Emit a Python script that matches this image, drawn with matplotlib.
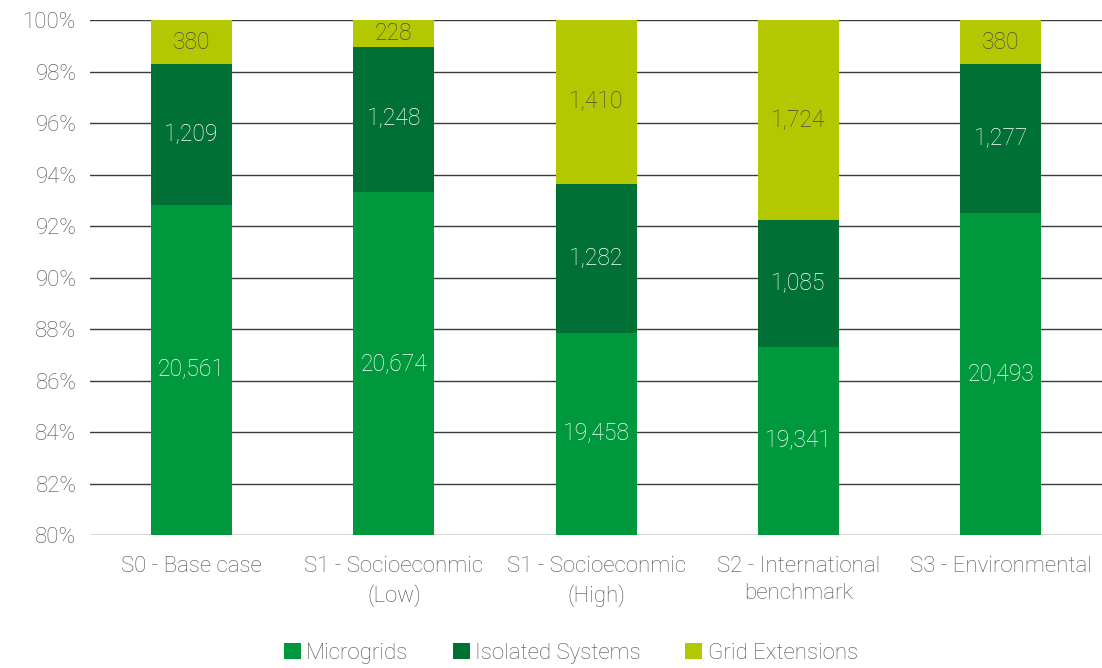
import matplotlib.pyplot as plt
import numpy as np

scenarios = ['S0 - Base case', 'S1 - Socioeconmic\n(Low)', 'S1 - Socioeconmic\n(High)',
             'S2 - International\nbenchmark', 'S3 - Environmental']
microgrids = [20561, 20674, 19458, 19341, 20493]
isolated = [1209, 1248, 1282, 1085, 1277]
grid_ext = [380, 228, 1410, 1724, 380]

series_names = ['Microgrids', 'Isolated Systems', 'Grid Extensions']
colors = ['#00983d', '#007035', '#b3c800']
label_colors = ['white', 'white', '#4a4a4a']

plt.rcParams['font.family'] = ['Roboto', 'DejaVu Sans']
plt.rcParams['font.weight'] = 'light'
text_gray = '#4f4f4f'

counts = np.array([microgrids, isolated, grid_ext], dtype=float)
pct = counts / counts.sum(axis=0) * 100

fig = plt.figure(figsize=(11.02, 6.68), dpi=100)
ax = fig.add_axes([0.082, 0.199, 0.918, 0.771])

x = np.arange(len(scenarios))
bottom = np.zeros(len(scenarios))
for i, name in enumerate(series_names):
    ax.bar(x, pct[i], 0.4, bottom=bottom, color=colors[i], label=name, zorder=2)
    for j in range(len(scenarios)):
        lo = max(bottom[j], 80)
        hi = min(bottom[j] + pct[i][j], 100)
        if hi > lo:
            ax.text(x[j], (lo + hi) / 2, f'{int(counts[i][j]):,}', ha='center', va='center',
                    color=label_colors[i], fontsize=16.5, zorder=3)
    bottom += pct[i]

ax.set_ylim(80, 100)
ax.set_xlim(-0.5, 4.5)
ax.set_yticks(np.arange(80, 101, 2))
ax.set_yticklabels([f'{v}%' for v in range(80, 101, 2)])
ax.set_xticks(x)
ax.set_xticklabels(scenarios, linespacing=1.4)
ax.yaxis.grid(True, color='#3a3a3a', linewidth=1.0, zorder=1)
ax.set_axisbelow(True)
for s in ax.spines.values():
    s.set_visible(False)
ax.tick_params(axis='both', length=0, labelsize=16, labelcolor=text_gray)
ax.tick_params(axis='x', pad=15)
ax.tick_params(axis='y', pad=10)

leg = ax.legend(loc='center', bbox_to_anchor=(0.475, -0.229), ncol=3, frameon=False,
                fontsize=16, handlelength=0.75, handleheight=0.75, handletextpad=0.25,
                columnspacing=2.0, labelcolor=text_gray)

fig.savefig('out.png', dpi=100)
